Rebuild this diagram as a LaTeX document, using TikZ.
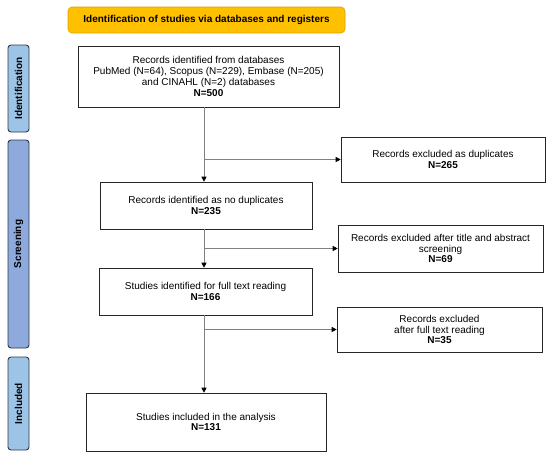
\documentclass[tikz,border=0pt]{standalone}
\usepackage{fontspec}
\setmainfont{Liberation Sans}
\usetikzlibrary{arrows.meta}
\definecolor{headfill}{HTML}{FFC000}
\definecolor{headdraw}{HTML}{D9A300}
\definecolor{sidelight}{HTML}{9DC3E6}
\definecolor{sidedark}{HTML}{8EA9DB}
\definecolor{sidedraw}{HTML}{2E3A4C}

\begin{document}
\begin{tikzpicture}[x=1pt, y=-1pt,
	every node/.style={font=\fontsize{10}{11.5}\selectfont},
	flowbox/.style={draw=black!85, line width=0.6pt, align=center, inner sep=2pt, font=\fontsize{10}{10.8}\selectfont},
	sidebox/.style={draw=sidedraw, line width=0.9pt, rounded corners=3pt, minimum width=21pt, inner sep=0pt},
	flowarr/.style={draw=black!50, line width=0.6pt, -{Triangle[black, length=5pt, width=5pt]}}]
		%%%%% START %%%%%
		\useasboundingbox (0, 0) rectangle (550, 455);
		
		\node[draw=headdraw, fill=headfill, line width=0.6pt, rounded corners=4pt, minimum width=277pt, minimum height=26pt] (head) at (206.5, 20) {\textbf{Identification of studies via databases and registers}};
		
		% side labels
		\node[sidebox, fill=sidelight, minimum height=87pt] (sideid) at (18.5, 88.5) {};
		\node[rotate=90] at (sideid) {\textbf{Identification}};
		\node[sidebox, fill=sidedark, minimum height=208pt] (sidescr) at (18.5, 244) {};
		\node[rotate=90] at (sidescr) {\textbf{Screening}};
		\node[sidebox, fill=sidelight, minimum height=93pt] (sideinc) at (18.5, 403.5) {};
		\node[rotate=90] at (sideinc) {\textbf{Included}};
		
		% main column
		\node[flowbox, minimum width=261pt, minimum height=61pt] (records) at (208.5, 76.5) {Records identified from databases\\PubMed (N=64), Scopus (N=229), Embase (N=205)\\and CINAHL (N=2) databases\\\textbf{N=500}};
		\node[flowbox, minimum width=212pt, minimum height=47pt] (nodup) at (206, 205.5) {Records identified as no duplicates\\\textbf{N=235}};
		\node[flowbox, minimum width=213pt, minimum height=47pt] (fulltext) at (205.5, 291.5) {Studies identified for full text reading\\\textbf{N=166}};
		\node[flowbox, minimum width=240pt, minimum height=58pt] (included) at (206, 422) {Studies included in the analysis\\\textbf{N=131}};
		
		% exclusions
		\node[flowbox, minimum width=204pt, minimum height=45pt] (dup) at (443, 159.5) {Records excluded as duplicates\\\textbf{N=265}};
		\node[flowbox, minimum width=205pt, minimum height=47pt] (titleex) at (440.5, 248.5) {Records excluded after title and abstract\\screening\\\textbf{N=69}};
		\node[flowbox, minimum width=205pt, minimum height=45pt] (fullex) at (439.5, 329.5) {Records excluded\\after full text reading\\\textbf{N=35}};
		
		\coordinate (spine) at (204, 0);
		
		\draw[flowarr] (records.south -| spine) -- (nodup.north -| spine);
		\draw[flowarr] (nodup.south -| spine) -- (fulltext.north -| spine);
		\draw[flowarr] (fulltext.south -| spine) -- (included.north -| spine);
		
		\draw[flowarr] (spine |- dup.west) -- (dup.west);
		\draw[flowarr] (spine |- titleex.west) -- (titleex.west);
		\draw[flowarr] (spine |- fullex.west) -- (fullex.west);
		
		%%%%% END %%%%%
	\end{tikzpicture}
\end{document}
